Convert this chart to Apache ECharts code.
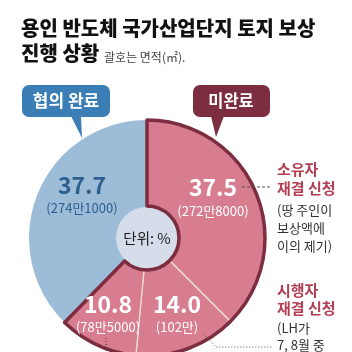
<!DOCTYPE html>
<html>
<head>
<meta charset="utf-8">
<script src="https://cdn.jsdelivr.net/npm/echarts@6/dist/echarts.min.js"></script>
<style>
html, body { margin: 0; padding: 0; background: #fff; }
#chart { width: 352px; height: 352px; }
</style>
</head>
<body>
<div id="chart"></div>
<script>
// slices, clockwise from 12 o'clock
const categories = ["소유자 재결 신청", "시행자 재결 신청", "미완료 기타", "협의 완료"];
const shares = [37.5, 14.0, 10.8, 37.7];
const areas = ["272만8000", "102만", "78만5000", "274만1000"];
const groups = ["미완료", "미완료", "미완료", "협의 완료"];

const FONT = '"Noto Sans CJK KR", "Noto Sans", sans-serif';
const CX = 147, CY = 238, R = 118, R0 = 32;
const blue = "#9dbcd8", red = "#d87c8f", wine = "#7c2d40", core = "#d4dde9";

// where the value labels sit (centre of number, centre of area line)
const labelPos = [[213, 187, 211], [177, 304, 327], [108, 304, 327], [82, 185, 208]];

const unfinished = shares.filter((v, i) => groups[i] === "미완료").reduce((a, b) => a + b, 0);
const finished = shares.filter((v, i) => groups[i] === "협의 완료").reduce((a, b) => a + b, 0);

function txt(text, x, y, size, color, weight, align) {
  return {
    type: "text", silent: true, z: 100,
    style: {
      text: text, x: x, y: y, fill: color,
      fontSize: size, fontWeight: weight || "normal", fontFamily: FONT,
      textAlign: align || "left", textVerticalAlign: "middle"
    }
  };
}

const graphics = [
  txt("용인 반도체 국가산업단지 토지 보상", 21, 28, 20, "#111", 900),
  txt("진행 상황", 21, 53, 20, "#111", 900),
  txt("괄호는 면적(㎡).", 104, 57, 12, "#444", "normal"),

  // callout boxes
  { type: "rect", z: 90, shape: { x: 22, y: 85, width: 88, height: 32, r: 7 }, style: { fill: "#3b7db5" } },
  { type: "polygon", z: 90, shape: { points: [[71, 116], [81, 116], [82, 138]] }, style: { fill: "#3b7db5" } },
  txt("협의 완료", 66, 101, 17, "#fff", "bold", "center"),
  { type: "rect", z: 90, shape: { x: 193, y: 85, width: 77, height: 32, r: 7 }, style: { fill: wine } },
  { type: "polygon", z: 90, shape: { points: [[211, 116], [224, 116], [216, 137]] }, style: { fill: wine } },
  txt("미완료", 231, 101, 16.5, "#fff", "bold", "center"),

  txt("단위: %", 147, 238, 14.5, "#1a1a1a", "normal", "center"),

  // right side notes
  txt("소유자", 277, 169, 15, "#b23f52", "bold"),
  txt("재결 신청", 277, 188, 15, "#b23f52", "bold"),
  txt("(땅 주인이", 277, 210, 13, "#333"),
  txt("보상액에", 277, 228, 13, "#333"),
  txt("이의 제기)", 277, 246, 13, "#333"),
  txt("시행자", 277, 290, 15, "#b23f52", "bold"),
  txt("재결 신청", 277, 308, 15, "#b23f52", "bold"),
  txt("(LH가", 277, 328, 13, "#333"),
  txt("7, 8월 중", 277, 345, 13, "#333"),

  { type: "line", z: 95, shape: { x1: 242, y1: 187, x2: 272, y2: 187 }, style: { stroke: "#555", lineWidth: 1, lineDash: [3, 2] } },
  { type: "polyline", z: 95, shape: { points: [[204, 334], [216, 347], [272, 347]] }, style: { stroke: "#555", lineWidth: 1, lineDash: [1, 2], fill: null } },
  { type: "line", z: 95, shape: { x1: 106, y1: 338, x2: 106, y2: 352 }, style: { stroke: "#333", lineWidth: 1, lineDash: [1, 2] } }
];

shares.forEach(function (v, i) {
  const p = labelPos[i];
  const isBlue = groups[i] === "협의 완료";
  const color = isBlue ? "#2d5f8f" : "#fff";
  graphics.push(txt(v.toFixed(1), p[0], p[1], 23, color, "bold", "center"));
  graphics.push(txt("(" + areas[i] + ")", p[0], p[2], 13, color, "normal", "center"));
});

const chart = echarts.init(document.getElementById("chart"), null, { renderer: "canvas" });
chart.setOption({
  animation: false,
  graphic: graphics,
  series: [
    {
      type: "pie",
      center: [CX, CY],
      radius: [0, R],
      startAngle: 90,
      silent: true,
      label: { show: false },
      labelLine: { show: false },
      data: shares.map(function (v, i) {
        const isBlue = groups[i] === "협의 완료";
        return {
          name: categories[i], value: v,
          itemStyle: isBlue
            ? { color: blue, borderWidth: 0 }
            : { color: red, borderColor: "#eadfcf", borderWidth: 1.3 }
        };
      }),
      z: 1
    },
    {
      type: "pie",
      center: [CX, CY],
      radius: [0, R0 - 1],
      silent: true,
      label: { show: false },
      data: [{ value: 1, itemStyle: { color: core, borderWidth: 0 } }],
      z: 2
    },
    {
      type: "pie",
      center: [CX, CY],
      radius: [R0, R],
      startAngle: 90,
      silent: true,
      label: { show: false },
      labelLine: { show: false },
      data: [
        { name: "미완료", value: unfinished, itemStyle: { color: "rgba(0,0,0,0)", borderColor: wine, borderWidth: 3.5 } },
        { name: "협의 완료", value: finished, itemStyle: { color: "rgba(0,0,0,0)", borderWidth: 0 } }
      ],
      z: 3
    }
  ]
});
</script>
</body>
</html>
